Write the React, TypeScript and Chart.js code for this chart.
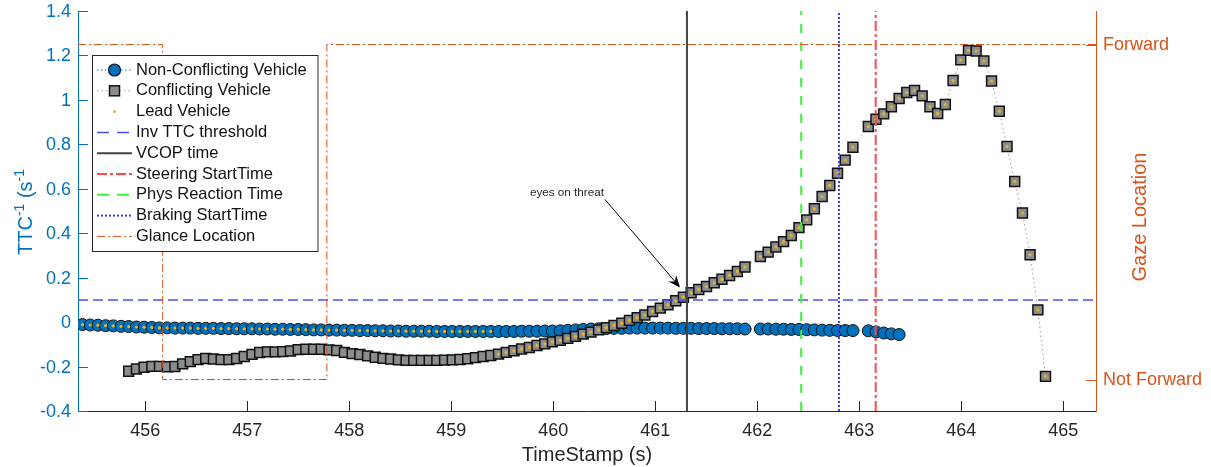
import React, { useEffect, useRef } from 'react';
import { Chart, registerables } from 'chart.js';

Chart.register(...registerables);

const FONT = '"Liberation Sans", Arial, Helvetica, sans-serif';

// Shared sample time stamps (s)
const TIME = [
  455.384, 455.460, 455.535, 455.611, 455.686, 455.762, 455.837, 455.913, 455.988, 456.064,
  456.139, 456.215, 456.290, 456.366, 456.441, 456.517, 456.592, 456.668, 456.743, 456.819,
  456.895, 456.970, 457.046, 457.121, 457.197, 457.272, 457.348, 457.423, 457.499, 457.574,
  457.650, 457.725, 457.801, 457.876, 457.952, 458.028, 458.103, 458.179, 458.254, 458.330,
  458.405, 458.481, 458.556, 458.632, 458.707, 458.783, 458.858, 458.934, 459.009, 459.085,
  459.161, 459.236, 459.312, 459.387, 459.463, 459.538, 459.614, 459.689, 459.765, 459.840,
  459.916, 459.991, 460.067, 460.142, 460.218, 460.293, 460.369, 460.444, 460.520, 460.595,
  460.671, 460.746, 460.822, 460.897, 460.973, 461.049, 461.124, 461.200, 461.275, 461.351,
  461.426, 461.502, 461.577, 461.653, 461.728, 461.804, 461.879, 461.955, 462.030, 462.106,
  462.182, 462.257, 462.333, 462.408, 462.484, 462.559, 462.635, 462.710, 462.786, 462.861,
  462.937, 463.012, 463.088, 463.163, 463.239, 463.314, 463.390, 463.465, 463.541, 463.616,
  463.692, 463.768, 463.843, 463.919, 463.994, 464.070, 464.145, 464.221, 464.296, 464.372,
  464.448, 464.523, 464.599, 464.674, 464.750, 464.825,
];

// Inverse TTC of the non-conflicting vehicle (null = no sample)
const NON_CONFLICTING = [
  -0.011, -0.013, -0.014, -0.016, -0.017, -0.019, -0.020, -0.022, -0.023, -0.024,
  -0.026, -0.026, -0.027, -0.027, -0.027, -0.028, -0.028, -0.028, -0.029, -0.029,
  -0.030, -0.030, -0.030, -0.031, -0.031, -0.032, -0.032, -0.033, -0.033, -0.034,
  -0.035, -0.035, -0.036, -0.036, -0.037, -0.037, -0.038, -0.038, -0.039, -0.039,
  -0.040, -0.040, -0.041, -0.041, -0.041, -0.041, -0.042, -0.042, -0.042, -0.042,
  -0.042, -0.042, -0.042, -0.042, -0.042, -0.042, -0.042, -0.041, -0.041, -0.041,
  -0.040, -0.040, -0.039, -0.037, -0.035, -0.033, -0.031, -0.030, -0.029, -0.028,
  -0.028, -0.027, -0.027, -0.027, -0.027, -0.027, -0.027, -0.028, -0.028, -0.028,
  -0.029, -0.029, -0.029, -0.030, -0.030, -0.030, -0.031, null, -0.031, -0.031,
  -0.032, -0.032, -0.033, -0.033, -0.034, -0.035, -0.036, -0.037, -0.038, -0.038,
  -0.038, null, -0.039, -0.044, -0.049, -0.053, -0.056,
];

// Inverse TTC of the conflicting vehicle (null = no sample)
const CONFLICTING = [
  null, null, null, null, null, null, -0.221, -0.211, -0.203, -0.199,
  -0.199, -0.201, -0.200, -0.188, -0.178, -0.169, -0.164, -0.166, -0.169, -0.169,
  -0.164, -0.155, -0.145, -0.137, -0.134, -0.134, -0.133, -0.130, -0.124, -0.122,
  -0.122, -0.122, -0.125, -0.128, -0.136, -0.142, -0.146, -0.152, -0.158, -0.163,
  -0.166, -0.170, -0.172, -0.172, -0.172, -0.172, -0.172, -0.171, -0.170, -0.168,
  -0.165, -0.160, -0.155, -0.150, -0.144, -0.136, -0.129, -0.121, -0.114, -0.105,
  -0.098, -0.089, -0.082, -0.073, -0.064, -0.054, -0.045, -0.035, -0.025, -0.015,
  -0.005, 0.008, 0.020, 0.032, 0.048, 0.063, 0.078, 0.096, 0.112, 0.132,
  0.147, 0.160, 0.177, 0.193, 0.210, 0.228, 0.248, null, 0.295, 0.315,
  0.338, 0.362, 0.390, 0.425, 0.460, 0.510, 0.565, 0.615, 0.670, 0.729,
  0.787, null, 0.880, 0.913, 0.937, 0.969, 1.006, 1.033, 1.042, 1.018,
  0.969, 0.939, 0.979, 1.087, 1.180, 1.223, 1.220, 1.175, 1.085, 0.949,
  0.790, 0.633, 0.491, 0.303, 0.055, -0.244,
];

// The lead vehicle is the non-conflicting one up to this sample, then the conflicting one
const LEAD_SWITCH_INDEX = 54;

const X_MIN = 455.34;
const X_MAX = 465.32;
const Y_MIN = -0.4;
const Y_MAX = 1.4;
const GAZE_MIN = -0.094;
const GAZE_MAX = 1.1;

const X_TICKS = [456, 457, 458, 459, 460, 461, 462, 463, 464, 465];
const Y_TICKS = [-0.4, -0.2, 0, 0.2, 0.4, 0.6, 0.8, 1, 1.2, 1.4];
const Y_TICK_LABELS = ['-0.4', '-0.2', '0', '0.2', '0.4', '0.6', '0.8', '1', '1.2', '1.4'];
const GAZE_TICKS = [0, 1];
const GAZE_TICK_LABELS = ['Not Forward', 'Forward'];

const INV_TTC_THRESHOLD = 0.1;
const VCOP_TIME = 461.31;
const STEERING_START = 463.16;
const PHYS_REACTION = 462.43;
const BRAKING_START = 462.8;

// Glance location: 1 = Forward, 0 = Not Forward
const GLANCE_TIMES = [455.34, 456.17, 456.17, 457.78, 457.78, 465.32];
const GLANCE_STATE = [1, 1, 0, 0, 1, 1];

const ANNOTATION_TEXT = 'eyes on threat';
const ANNOTATION_TEXT_AT = { x: 459.77, y: 0.583 };
const ARROW_FROM = { x: 460.506, y: 0.552 };
const ARROW_TO = { x: 461.242, y: 0.156 };

const C_BLUE = '#0072BD';
const C_ORANGE = '#D95319';
const C_AXIS = '#262626';
const C_GRAY_FILL = '#8a8d8f';
const C_LEAD = '#EDB120';
const C_THRESH = '#4b4bff';
const C_VCOP = '#444444';
const C_STEER = '#ff4848';
const C_PHYS = '#3cf23c';
const C_BRAKE = '#3a3aff';

const DASH_NONCONF = [1.5, 2.5];
const DASH_CONF = [1.5, 3];
const DASH_THRESH = [10, 5];
const DASH_STEER = [10, 3, 3, 3];
const DASH_PHYS = [9, 9];
const DASH_BRAKE = [2, 2];
const DASH_GLANCE = [8, 3, 2, 3];

function series(values: (number | null)[]) {
  const out: { x: number; y: number }[] = [];
  values.forEach((v, i) => {
    if (v !== null && v !== undefined) out.push({ x: TIME[i], y: v });
  });
  return out;
}

function leadSeries() {
  const out: { x: number; y: number }[] = [];
  TIME.forEach((t, i) => {
    const v = i < LEAD_SWITCH_INDEX ? NON_CONFLICTING[i] : CONFLICTING[i];
    if (v !== null && v !== undefined) out.push({ x: t, y: v });
  });
  return out;
}

function vline(t: number) {
  return [
    { x: t, y: Y_MIN },
    { x: t, y: Y_MAX },
  ];
}

const LEGEND_ITEMS = [
  { label: 'Non-Conflicting Vehicle', kind: 'nonconf' },
  { label: 'Conflicting Vehicle', kind: 'conf' },
  { label: 'Lead Vehicle', kind: 'lead' },
  { label: 'Inv TTC threshold', kind: 'thresh' },
  { label: 'VCOP time', kind: 'vcop' },
  { label: 'Steering StartTime', kind: 'steer' },
  { label: 'Phys Reaction Time', kind: 'phys' },
  { label: 'Braking StartTime', kind: 'brake' },
  { label: 'Glance Location', kind: 'glance' },
];

function strokeLine(ctx: CanvasRenderingContext2D, x1: number, y1: number, x2: number, y2: number) {
  ctx.beginPath();
  ctx.moveTo(x1, y1);
  ctx.lineTo(x2, y2);
  ctx.stroke();
}

const decorPlugin = {
  id: 'decor',
  beforeDatasetsDraw(chart: any) {
    const { ctx, chartArea: a, scales } = chart;
    ctx.save();
    ctx.lineWidth = 1;
    ctx.setLineDash([]);
    ctx.strokeStyle = C_AXIS;
    X_TICKS.forEach((v) => {
      const px = Math.round(scales.x.getPixelForValue(v)) + 0.5;
      strokeLine(ctx, px, a.bottom, px, a.bottom - 10);
    });
    ctx.strokeStyle = C_BLUE;
    Y_TICKS.forEach((v) => {
      const py = Math.round(scales.y.getPixelForValue(v)) + 0.5;
      strokeLine(ctx, a.left, py, a.left + 10, py);
    });
    ctx.strokeStyle = C_ORANGE;
    GAZE_TICKS.forEach((v) => {
      const py = Math.round(scales.y2.getPixelForValue(v)) + 0.5;
      strokeLine(ctx, a.right - 10, py, a.right, py);
    });

    // y tick labels (left and right)
    ctx.font = `18px ${FONT}`;
    ctx.textBaseline = 'middle';
    ctx.fillStyle = C_BLUE;
    ctx.textAlign = 'right';
    Y_TICKS.forEach((v, i) => {
      ctx.fillText(Y_TICK_LABELS[i], a.left - 7, scales.y.getPixelForValue(v) + 1);
    });
    ctx.fillStyle = C_ORANGE;
    ctx.textAlign = 'left';
    GAZE_TICKS.forEach((v, i) => {
      ctx.fillText(GAZE_TICK_LABELS[i], a.right + 7, scales.y2.getPixelForValue(v) + 1);
    });
    ctx.restore();
  },
  afterDraw(chart: any) {
    const { ctx, chartArea: a, scales } = chart;
    const xs = scales.x;
    const ys = scales.y;
    ctx.save();

    // ---- Axis titles ----
    ctx.fillStyle = C_AXIS;
    ctx.font = `20px ${FONT}`;
    ctx.textAlign = 'center';
    ctx.textBaseline = 'middle';
    ctx.fillText('TimeStamp (s)', (a.left + a.right) / 2, 455);

    // left title: TTC^-1 (s^-1
    const parts = [
      { t: 'TTC', sup: false },
      { t: '-1', sup: true },
      { t: ' (s', sup: false },
      { t: '-1', sup: true },
    ];
    const big = `20px ${FONT}`;
    const small = `14px ${FONT}`;
    let total = 0;
    parts.forEach((p) => {
      ctx.font = p.sup ? small : big;
      total += ctx.measureText(p.t).width;
    });
    ctx.save();
    ctx.translate(32, 212);
    ctx.rotate(-Math.PI / 2);
    ctx.fillStyle = C_BLUE;
    ctx.textAlign = 'left';
    ctx.textBaseline = 'alphabetic';
    let cx = -total / 2;
    parts.forEach((p) => {
      ctx.font = p.sup ? small : big;
      ctx.fillText(p.t, cx, p.sup ? -8 : 0);
      cx += ctx.measureText(p.t).width;
    });
    ctx.restore();

    // right title
    ctx.save();
    ctx.translate(1146, 217);
    ctx.rotate(-Math.PI / 2);
    ctx.fillStyle = C_ORANGE;
    ctx.font = big;
    ctx.textAlign = 'center';
    ctx.textBaseline = 'alphabetic';
    ctx.fillText('Gaze Location', 0, 0);
    ctx.restore();

    // ---- Annotation ----
    ctx.fillStyle = C_AXIS;
    ctx.font = `11.7px ${FONT}`;
    ctx.textAlign = 'left';
    ctx.textBaseline = 'middle';
    ctx.fillText(ANNOTATION_TEXT, xs.getPixelForValue(ANNOTATION_TEXT_AT.x), ys.getPixelForValue(ANNOTATION_TEXT_AT.y));
    const x1 = xs.getPixelForValue(ARROW_FROM.x);
    const y1 = ys.getPixelForValue(ARROW_FROM.y);
    const x2 = xs.getPixelForValue(ARROW_TO.x);
    const y2 = ys.getPixelForValue(ARROW_TO.y);
    const len = Math.hypot(x2 - x1, y2 - y1);
    const dx = (x2 - x1) / len;
    const dy = (y2 - y1) / len;
    const nx = -dy;
    const ny = dx;
    const L = 12;
    const W = 5;
    ctx.strokeStyle = '#000';
    ctx.lineWidth = 1;
    strokeLine(ctx, x1, y1, x2 - dx * L * 0.6, y2 - dy * L * 0.6);
    ctx.fillStyle = '#000';
    ctx.beginPath();
    ctx.moveTo(x2, y2);
    ctx.lineTo(x2 - dx * L + nx * W, y2 - dy * L + ny * W);
    ctx.lineTo(x2 - dx * L * 0.65, y2 - dy * L * 0.65);
    ctx.lineTo(x2 - dx * L - nx * W, y2 - dy * L - ny * W);
    ctx.closePath();
    ctx.fill();

    // ---- Legend ----
    const bx = 92.5;
    const by = 55.5;
    const bw = 225.5;
    const bh = 196;
    ctx.fillStyle = '#ffffff';
    ctx.fillRect(bx, by, bw, bh);
    ctx.strokeStyle = C_AXIS;
    ctx.lineWidth = 1;
    ctx.setLineDash([]);
    ctx.strokeRect(bx, by, bw, bh);
    const lx1 = 97;
    const lx2 = 132;
    const mx = 114.5;
    LEGEND_ITEMS.forEach((it, i) => {
      const ry = 70 + i * 20.8;
      ctx.save();
      switch (it.kind) {
        case 'nonconf':
          ctx.strokeStyle = C_BLUE;
          ctx.lineWidth = 1;
          ctx.setLineDash(DASH_NONCONF);
          strokeLine(ctx, lx1, ry, lx2, ry);
          ctx.setLineDash([]);
          ctx.beginPath();
          ctx.arc(mx, ry, 6, 0, Math.PI * 2);
          ctx.fillStyle = C_BLUE;
          ctx.fill();
          ctx.strokeStyle = '#111';
          ctx.lineWidth = 1.2;
          ctx.stroke();
          break;
        case 'conf':
          ctx.strokeStyle = '#9a9a9a';
          ctx.lineWidth = 1;
          ctx.setLineDash(DASH_CONF);
          strokeLine(ctx, lx1, ry, lx2, ry);
          ctx.setLineDash([]);
          ctx.fillStyle = C_GRAY_FILL;
          ctx.fillRect(mx - 5, ry - 5, 10, 10);
          ctx.strokeStyle = '#111';
          ctx.lineWidth = 1.5;
          ctx.strokeRect(mx - 5, ry - 5, 10, 10);
          break;
        case 'lead':
          ctx.fillStyle = C_LEAD;
          ctx.beginPath();
          ctx.arc(mx, ry, 1.5, 0, Math.PI * 2);
          ctx.fill();
          break;
        case 'thresh':
          ctx.strokeStyle = C_THRESH;
          ctx.lineWidth = 1.5;
          ctx.setLineDash([12, 8]);
          strokeLine(ctx, lx1, ry, lx2, ry);
          break;
        case 'vcop':
          ctx.strokeStyle = C_VCOP;
          ctx.lineWidth = 2;
          strokeLine(ctx, lx1, ry, lx2, ry);
          break;
        case 'steer':
          ctx.strokeStyle = C_STEER;
          ctx.lineWidth = 2;
          ctx.setLineDash(DASH_STEER);
          strokeLine(ctx, lx1, ry, lx2, ry);
          break;
        case 'phys':
          ctx.strokeStyle = C_PHYS;
          ctx.lineWidth = 2;
          ctx.setLineDash([12, 8]);
          strokeLine(ctx, lx1, ry, lx2, ry);
          break;
        case 'brake':
          ctx.strokeStyle = C_BRAKE;
          ctx.lineWidth = 2;
          ctx.setLineDash(DASH_BRAKE);
          strokeLine(ctx, lx1, ry, lx2, ry);
          break;
        case 'glance':
          ctx.strokeStyle = C_ORANGE;
          ctx.lineWidth = 1;
          ctx.setLineDash(DASH_GLANCE);
          strokeLine(ctx, lx1, ry, lx2, ry);
          break;
      }
      ctx.restore();
      ctx.fillStyle = '#111';
      ctx.font = `16.5px ${FONT}`;
      ctx.textAlign = 'left';
      ctx.textBaseline = 'middle';
      ctx.fillText(it.label, 136, ry);
    });

    ctx.restore();
  },
};

export default function App() {
  const canvasRef = useRef<HTMLCanvasElement | null>(null);

  useEffect(() => {
    const canvas = canvasRef.current;
    if (!canvas) return;

    const lineBase = { pointRadius: 0, fill: false, tension: 0 };

    const chart = new Chart(canvas, {
      type: 'line',
      data: {
        datasets: [
          {
            ...lineBase,
            label: 'Glance Location',
            data: GLANCE_TIMES.map((t, i) => ({ x: t, y: GLANCE_STATE[i] })),
            yAxisID: 'y2',
            borderColor: C_ORANGE,
            borderWidth: 1,
            borderDash: DASH_GLANCE,
            order: 0,
          },
          {
            ...lineBase,
            label: 'Braking StartTime',
            data: vline(BRAKING_START),
            borderColor: C_BRAKE,
            borderWidth: 2,
            borderDash: DASH_BRAKE,
            order: 1,
          },
          {
            ...lineBase,
            label: 'Phys Reaction Time',
            data: vline(PHYS_REACTION),
            borderColor: C_PHYS,
            borderWidth: 2,
            borderDash: DASH_PHYS,
            order: 2,
          },
          {
            ...lineBase,
            label: 'Steering StartTime',
            data: vline(STEERING_START),
            borderColor: C_STEER,
            borderWidth: 2,
            borderDash: DASH_STEER,
            order: 3,
          },
          {
            ...lineBase,
            label: 'VCOP time',
            data: vline(VCOP_TIME),
            borderColor: C_VCOP,
            borderWidth: 2,
            order: 4,
          },
          {
            ...lineBase,
            label: 'Inv TTC threshold',
            data: [
              { x: X_MIN, y: INV_TTC_THRESHOLD },
              { x: X_MAX, y: INV_TTC_THRESHOLD },
            ],
            borderColor: C_THRESH,
            borderWidth: 1.5,
            borderDash: DASH_THRESH,
            order: 5,
          },
          {
            label: 'Lead Vehicle',
            data: leadSeries(),
            showLine: false,
            pointRadius: 1.6,
            pointStyle: 'circle',
            pointBackgroundColor: C_LEAD,
            pointBorderWidth: 0,
            borderColor: C_LEAD,
            order: 6,
          },
          {
            label: 'Conflicting Vehicle',
            data: series(CONFLICTING),
            spanGaps: true,
            tension: 0,
            borderColor: '#9a9a9a',
            borderWidth: 1,
            borderDash: DASH_CONF,
            pointStyle: 'rect',
            pointRadius: 7,
            pointBackgroundColor: C_GRAY_FILL,
            pointBorderColor: '#111111',
            pointBorderWidth: 1.5,
            order: 7,
          },
          {
            label: 'Non-Conflicting Vehicle',
            data: series(NON_CONFLICTING),
            spanGaps: true,
            tension: 0,
            borderColor: C_BLUE,
            borderWidth: 1,
            borderDash: DASH_NONCONF,
            pointStyle: 'circle',
            pointRadius: 6,
            pointBackgroundColor: C_BLUE,
            pointBorderColor: '#111111',
            pointBorderWidth: 1,
            order: 8,
          },
        ],
      },
      options: {
        responsive: false,
        devicePixelRatio: 1,
        animation: false,
        events: [],
        layout: { padding: { top: 11, left: 0, right: 0, bottom: 0 } },
        plugins: {
          legend: { display: false },
          tooltip: { enabled: false },
          title: { display: false },
        },
        scales: {
          x: {
            type: 'linear',
            min: X_MIN,
            max: X_MAX,
            afterBuildTicks: (s: any) => {
              s.ticks = X_TICKS.map((v) => ({ value: v }));
            },
            afterFit: (s: any) => {
              s.height = 56;
            },
            grid: { display: false, drawTicks: false },
            border: { display: true, color: C_AXIS, width: 1 },
            ticks: {
              autoSkip: false,
              maxRotation: 0,
              padding: 9,
              color: C_AXIS,
              font: { family: FONT, size: 18 },
              callback: (v: any) => String(v),
            },
          },
          y: {
            type: 'linear',
            position: 'left',
            min: Y_MIN,
            max: Y_MAX,
            afterBuildTicks: (s: any) => {
              s.ticks = Y_TICKS.map((v) => ({ value: v }));
            },
            afterFit: (s: any) => {
              s.width = 78;
            },
            grid: { display: false, drawTicks: false },
            border: { display: true, color: C_BLUE, width: 1 },
            ticks: { display: false },
          },
          y2: {
            type: 'linear',
            position: 'right',
            min: GAZE_MIN,
            max: GAZE_MAX,
            afterBuildTicks: (s: any) => {
              s.ticks = GAZE_TICKS.map((v) => ({ value: v }));
            },
            afterFit: (s: any) => {
              s.width = 115;
            },
            grid: { display: false, drawTicks: false },
            border: { display: true, color: C_ORANGE, width: 1 },
            ticks: { display: false },
          },
        },
      },
      plugins: [decorPlugin],
    } as any);

    return () => {
      chart.destroy();
    };
  }, []);

  return (
    <div style={{ position: 'absolute', left: 0, top: 0, width: 1211, height: 467, background: '#fff' }}>
      <canvas ref={canvasRef} width={1211} height={467} style={{ display: 'block' }} />
    </div>
  );
}
